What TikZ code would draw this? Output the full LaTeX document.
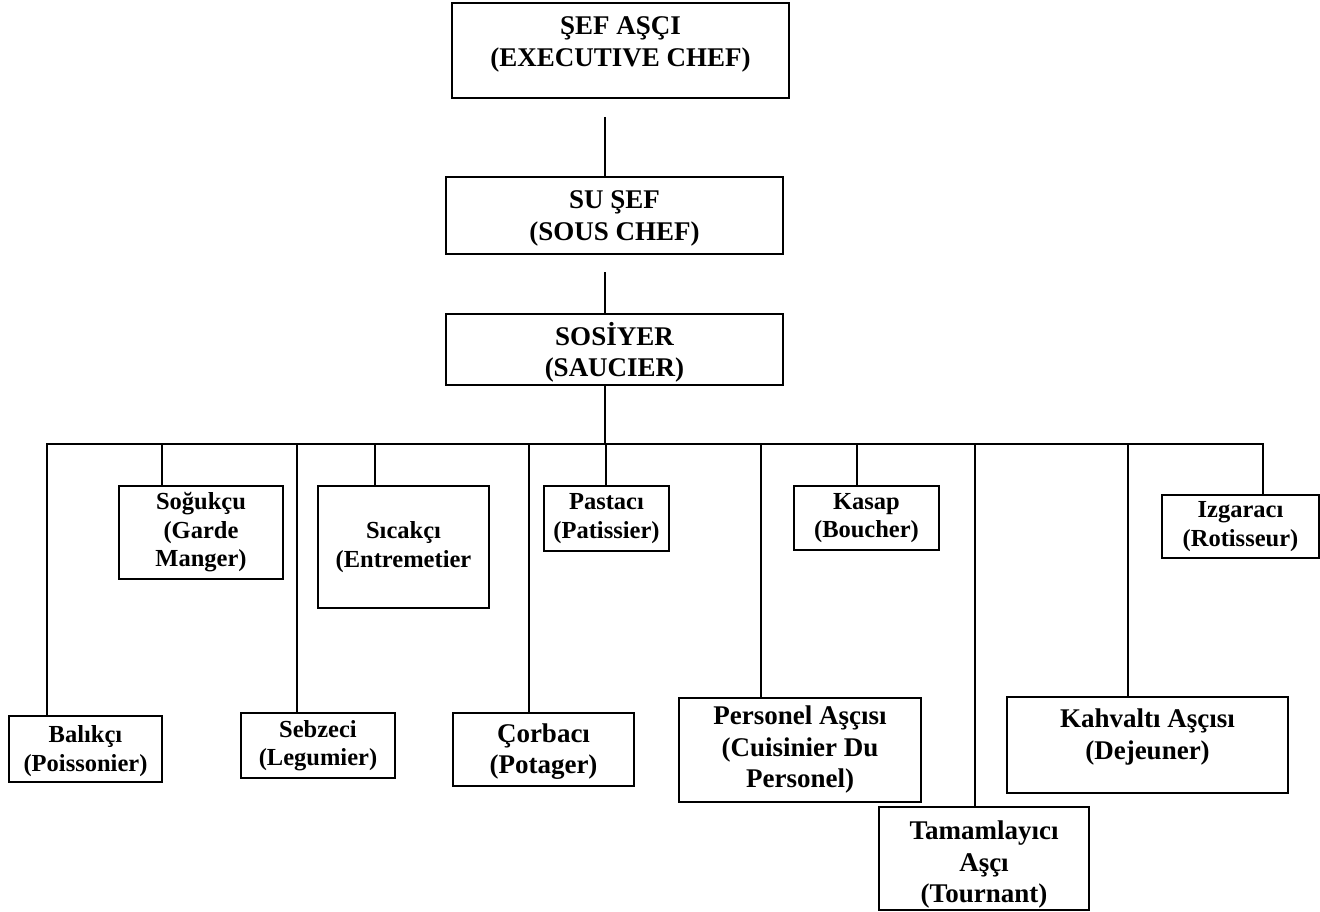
\documentclass[tikz,border=0pt]{standalone}
\usepackage{fontspec}
\setmainfont{Liberation Serif}
\begin{document}
\begin{tikzpicture}[x=1pt,y=-1pt,
  box/.style={draw, line width=2.2pt, inner sep=0pt},
  ln/.style={line width=2.2pt},
  bigt/.style={font=\fontsize{27}{31.5}\selectfont\bfseries, align=center, inner sep=0pt},
  smallt/.style={font=\fontsize{24.5}{28.5}\selectfont\bfseries, align=center, inner sep=0pt}]
\useasboundingbox[fill=white] (0,0) rectangle (1320,912);

% top three boxes
\node[box, minimum width=337pt, minimum height=95pt] (top) at (620.5,50.5) {};
\node[bigt] (topT) at ([yshift=6pt]top.center) {ŞEF AŞÇI\\(EXECUTIVE CHEF)};
\node[box, minimum width=337pt, minimum height=77pt] (su) at (614.5,215.5) {};
\node[bigt] (suT) at ([yshift=-3pt]su.center) {SU ŞEF\\(SOUS CHEF)};
\node[box, minimum width=337pt, minimum height=71pt] (sos) at (614.5,349.5) {};
\node[bigt] (sosT) at ([yshift=-3pt]sos.center) {SOSİYER\\(SAUCIER)};

% second row (upper)
\node[box, minimum width=164pt, minimum height=93pt] (soguk) at (201,532.5) {};
\node[smallt] (sogukT) at (soguk.center) {Soğukçu\\(Garde\\Manger)};
\node[box, minimum width=171pt, minimum height=122pt] (sicak) at (403.5,547) {};
\node[smallt] (sicakT) at (sicak.center) {Sıcakçı\\(Entremetier};
\node[box, minimum width=125pt, minimum height=65pt] (pasta) at (606.5,518.5) {};
\node[smallt] (pastaT) at (pasta.center) {Pastacı\\(Patissier)};
\node[box, minimum width=145pt, minimum height=64pt] (kasap) at (866.5,518) {};
\node[smallt] (kasapT) at (kasap.center) {Kasap\\(Boucher)};
\node[box, minimum width=157pt, minimum height=63pt] (izgara) at (1240.5,526.5) {};
\node[smallt] (izgaraT) at (izgara.center) {Izgaracı\\(Rotisseur)};

% lower row
\node[box, minimum width=153pt, minimum height=66pt] (balik) at (85.5,749) {};
\node[smallt] (balikT) at ([yshift=-2pt]balik.center) {Balıkçı\\(Poissonier)};
\node[box, minimum width=154pt, minimum height=65pt] (sebze) at (318,745.5) {};
\node[smallt] (sebzeT) at (sebze.center) {Sebzeci\\(Legumier)};
\node[box, minimum width=181pt, minimum height=73pt] (corba) at (543.5,749.5) {};
\node[bigt] (corbaT) at ([yshift=-2pt]corba.center) {Çorbacı\\(Potager)};
\node[box, minimum width=242pt, minimum height=104pt] (perso) at (800,750) {};
\node[bigt] (persoT) at (perso.center) {Personel Aşçısı\\(Cuisinier Du\\Personel)};
\node[box, minimum width=210pt, minimum height=103pt] (tamam) at (984,858.5) {};
\node[bigt] (tamamT) at ([yshift=-6pt]tamam.center) {Tamamlayıcı\\Aşçı\\(Tournant)};
\node[box, minimum width=281pt, minimum height=96pt] (kahv) at (1147.5,745) {};
\node[bigt] (kahvT) at ([yshift=8pt]kahv.center) {Kahvaltı Aşçısı\\(Dejeuner)};

% trunk
\coordinate (t1) at (605,117);
\coordinate (t2) at (605,272);
\coordinate (bus) at (605,444);
\draw[ln] (t1) -- (t1 |- su.north);
\draw[ln] (t2) -- (t2 |- sos.north);
\draw[ln] (bus |- sos.south) -- (bus);

% bus
\coordinate (dBalik) at (47,444);
\coordinate (dSoguk) at (162,444);
\coordinate (dSebze) at (297,444);
\coordinate (dSicak) at (375,444);
\coordinate (dCorba) at (529,444);
\coordinate (dPasta) at (606,444);
\coordinate (dPerso) at (761,444);
\coordinate (dKasap) at (857,444);
\coordinate (dTamam) at (975,444);
\coordinate (dKahv) at (1128,444);
\coordinate (dIzgara) at (1263,444);
\draw[ln, line cap=rect] (dBalik) -- (dIzgara);

\draw[ln] (dBalik) -- (dBalik |- balik.north);
\draw[ln] (dSoguk) -- (dSoguk |- soguk.north);
\draw[ln] (dSebze) -- (dSebze |- sebze.north);
\draw[ln] (dSicak) -- (dSicak |- sicak.north);
\draw[ln] (dCorba) -- (dCorba |- corba.north);
\draw[ln] (dPasta) -- (dPasta |- pasta.north);
\draw[ln] (dPerso) -- (dPerso |- perso.north);
\draw[ln] (dKasap) -- (dKasap |- kasap.north);
\draw[ln] (dTamam) -- (dTamam |- tamam.north);
\draw[ln] (dKahv) -- (dKahv |- kahv.north);
\draw[ln] (dIzgara) -- (dIzgara |- izgara.north);
\end{tikzpicture}
\end{document}
